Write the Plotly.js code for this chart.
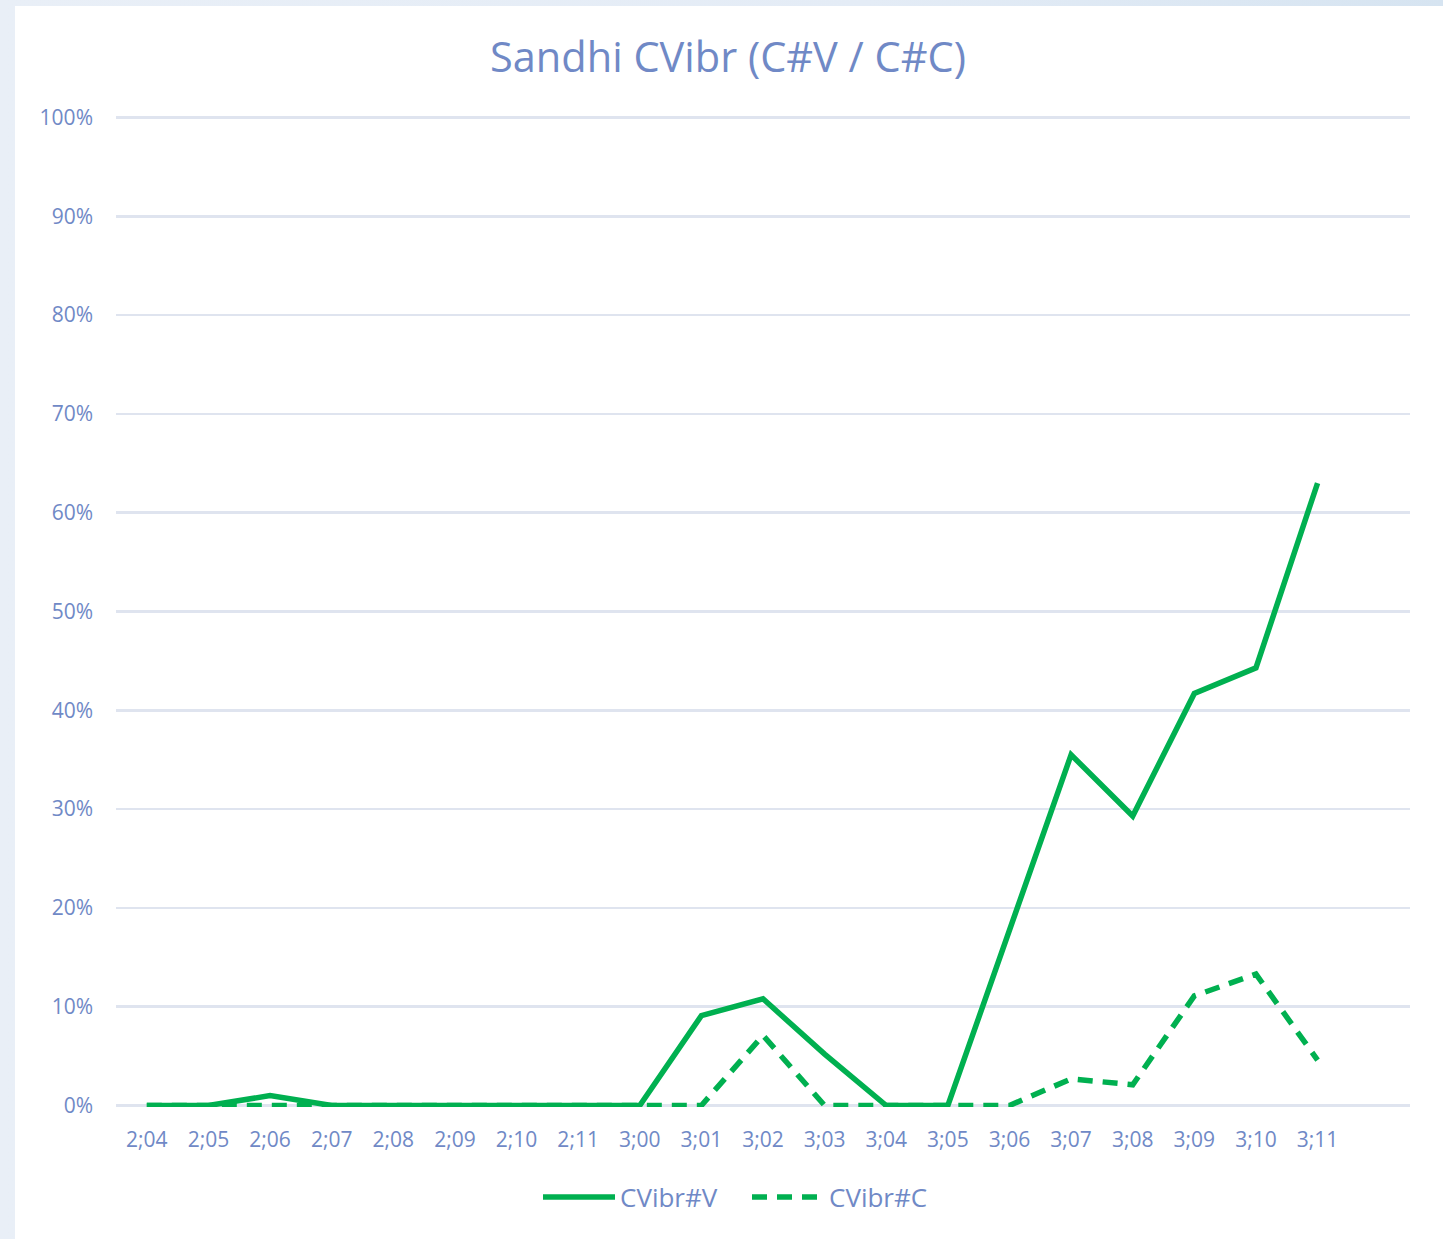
<!DOCTYPE html>
<html>
<head>
<meta charset="utf-8">
<script src="https://cdn.plot.ly/plotly-3.0.1.min.js"></script>
<style>
  html, body { margin: 0; padding: 0; width: 1443px; height: 1239px; overflow: hidden;
    background: linear-gradient(90deg, #e9eff7 0%, #e4ecf6 60%, #d6e4f1 100%); }
  #chart { position: absolute; left: 15px; top: 6px; width: 1428px; height: 1233px; background: #ffffff; }
</style>
</head>
<body>
<div id="chart"></div>
<script>
const categories = ["2;04","2;05","2;06","2;07","2;08","2;09","2;10","2;11","3;00","3;01","3;02","3;03","3;04","3;05","3;06","3;07","3;08","3;09","3;10","3;11"];
const cvibrV = [0, 0, 1.0, 0, 0, 0, 0, 0, 0, 9.1, 10.8, 5.2, 0, 0, 17.6, 35.5, 29.3, 41.7, 44.3, 63.0];
const cvibrC = [0, 0, 0, 0, 0, 0, 0, 0, 0, 0, 7.1, 0, 0, 0, 0, 2.7, 2.1, 11.1, 13.3, 4.6];
const yTickVals = [0,10,20,30,40,50,60,70,80,90,100];
const yTickText = ["0%","10%","20%","30%","40%","50%","60%","70%","80%","90%","100%"];

const green = "#00b050";
const textColor = "#7089c6";
const fontFamily = "'Open Sans', 'DejaVu Sans', sans-serif";

const traces = [
  { x: categories, y: cvibrV, type: "scatter", mode: "lines", name: "CVibr#V",
    line: { color: green, width: 5.5 } },
  { x: categories, y: cvibrC, type: "scatter", mode: "lines", name: "CVibr#C",
    line: { color: green, width: 5.5, dash: "15px,10px" } }
];

const layout = {
  width: 1428, height: 1233,
  paper_bgcolor: "#ffffff", plot_bgcolor: "#ffffff",
  margin: { l: 101, r: 33, t: 110, b: 132, autoexpand: false },
  font: { family: fontFamily, color: textColor, size: 21 },
  title: { text: "Sandhi CVibr (C#V / C#C)", font: { size: 41.5, color: textColor, family: fontFamily },
           x: (728 - 15) / 1428, xanchor: "center", xref: "container", y: 1 - 51/1233, yanchor: "middle", yref: "container" },
  xaxis: { type: "category", range: [-0.5, 20.5], showgrid: false, zeroline: false, showline: false,
           ticks: "", tickfont: { size: 21, color: textColor }, ticklabelstandoff: 18, fixedrange: true },
  yaxis: { range: [-0.15, 100.15], tickvals: yTickVals, ticktext: yTickText, showgrid: true,
           gridcolor: "#dfe4ef", gridwidth: 2.5, zeroline: false, showline: false, ticks: "",
           tickfont: { size: 21, color: textColor }, ticklabelstandoff: 22, fixedrange: true },
  showlegend: true,
  legend: { orientation: "h", x: (747 - 116) / 1294, xanchor: "center", xref: "paper", y: -0.091, yanchor: "middle",
            font: { size: 26, color: textColor }, itemwidth: 72, entrywidth: 122, tracegroupgap: 0 },
  hovermode: false
};

Plotly.newPlot("chart", traces, layout, { displayModeBar: false, staticPlot: true });
</script>
</body>
</html>
